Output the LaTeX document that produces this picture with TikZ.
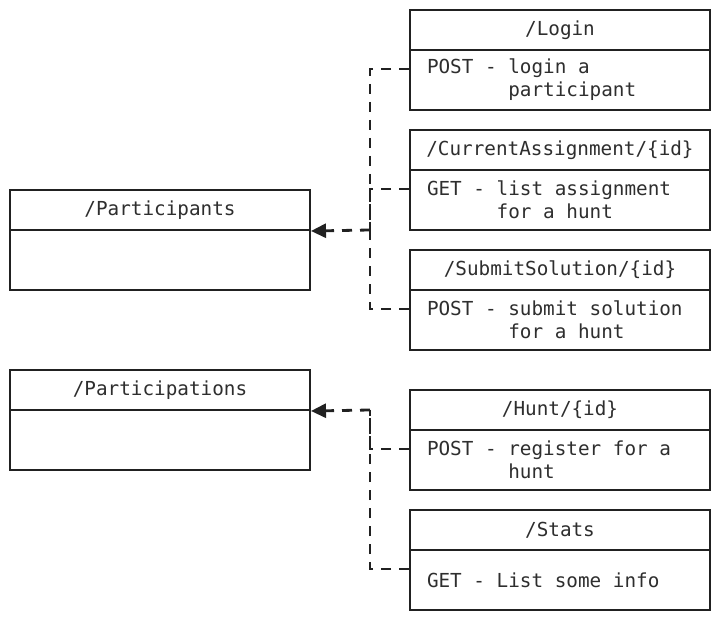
\documentclass[tikz,border=0pt]{standalone}
\usepackage{fontspec}
\setmonofont{DejaVu Sans Mono}
\usetikzlibrary{arrows.meta}
\definecolor{drawColor}{gray}{0.13}
\definecolor{textColor}{gray}{0.18}

\begin{document}
\begin{tikzpicture}[x=1pt,y=-1pt,
  every node/.style={font=\ttfamily\fontsize{19.3}{23.2}\selectfont,text=textColor},
  head/.style={draw=drawColor,line width=2pt,minimum width=300pt,minimum height=40pt,inner sep=0pt},
  body/.style={draw=drawColor,line width=2pt,minimum width=300pt,minimum height=60pt,
    inner xsep=17pt,inner ysep=0pt,text width=266pt,align=left,
    execute at begin node={\spaceskip=0.602em\xspaceskip=0.602em\relax}},
  dep/.style={draw=drawColor,line width=2.8pt,dash pattern=on 10pt off 8pt},
  deparrow/.style={dep,-{Triangle[length=15pt,width=14pt]}}]
\path[use as bounding box,fill=white] (0,0) rectangle (720,620);

% resources on the left
\node[head] (participants) at (160,210) {/Participants};
\node[body] (participantsbody) at (160,260) {};
\node[head] (participations) at (160,390) {/Participations};
\node[body] (participationsbody) at (160,440) {};

% endpoints on the right
\node[head] (login) at (560, 30) {/Login};
\node[body] (loginbody) at (560, 80) {POST - login a\\\phantom{POST - }participant};

\node[head] (current) at (560,150) {/CurrentAssignment/\{id\}};
\node[body] (currentbody) at (560,200) {GET - list assignment\\\phantom{GET - }for a hunt};

\node[head] (submit) at (560,270) {/SubmitSolution/\{id\}};
\node[body] (submitbody) at (560,320) {POST - submit solution\\\phantom{POST - }for a hunt};

\node[head] (hunt) at (560,410) {/Hunt/\{id\}};
\node[body] (huntbody) at (560,460) {POST - register for a\\\phantom{POST - }hunt};

\node[head] (stats) at (560,530) {/Stats};
\node[body] (statsbody) at (560,580) {GET - List some info};

% junctions
\coordinate (participantsjoin) at (370,230);
\coordinate (participationsjoin) at (370,410);

% connectors
\path[dep] ([yshift=-20pt]loginbody.north west) -| (participantsjoin);
\path[dep] ([yshift=-20pt]currentbody.north west) -| (participantsjoin);
\path[dep] ([yshift=-20pt]submitbody.north west) -| (participantsjoin);
\path[deparrow] (participantsjoin) -- (participants.south east);

\path[dep] ([yshift=-20pt]huntbody.north west) -| (participationsjoin);
\path[dep] ([yshift=-20pt]statsbody.north west) -| (participationsjoin);
\path[deparrow] (participationsjoin) -- (participations.south east);
\end{tikzpicture}
\end{document}
